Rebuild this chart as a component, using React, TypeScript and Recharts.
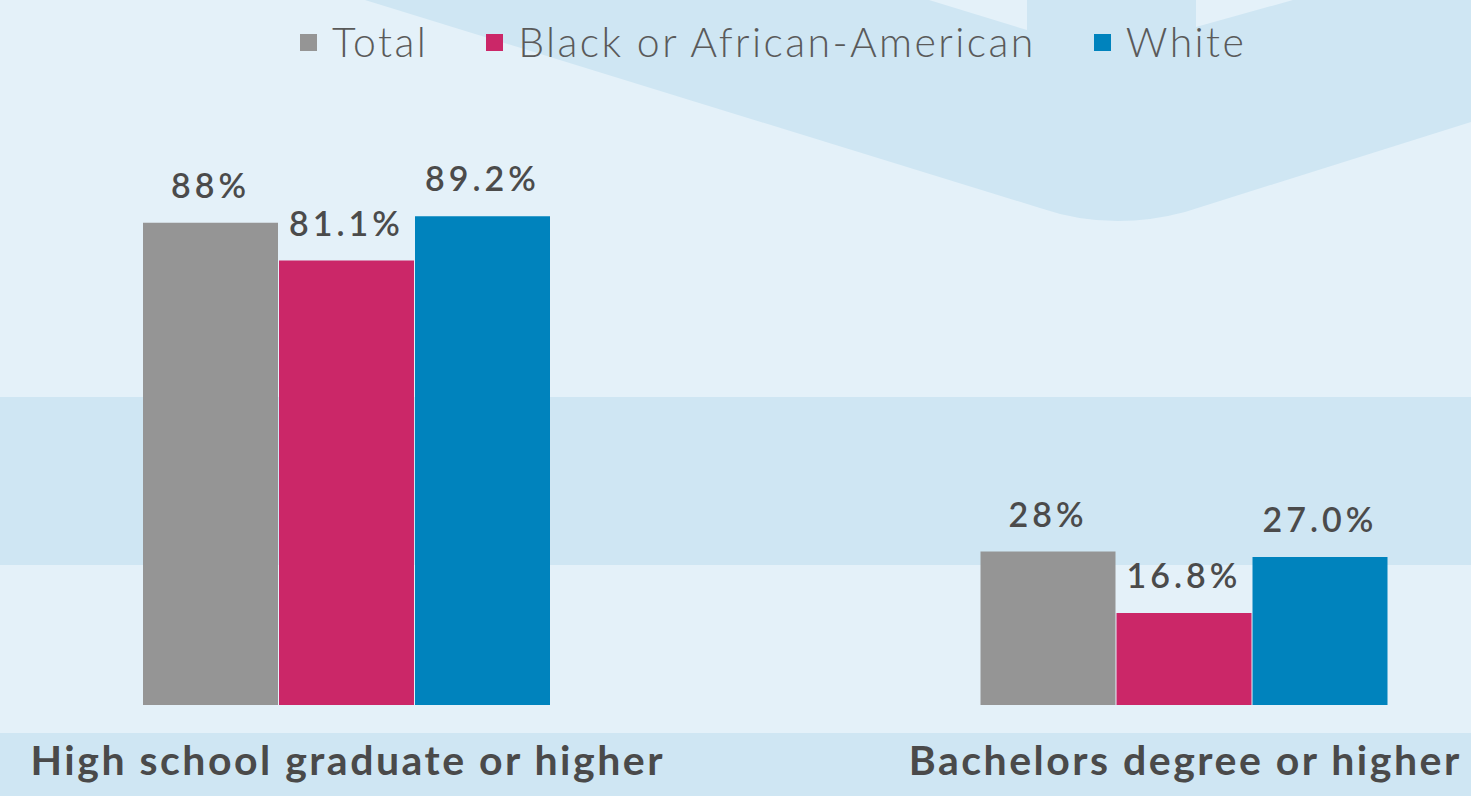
import React from "react";
import { BarChart, Bar, XAxis, YAxis, LabelList, Legend } from "recharts";

const categories = ["High school graduate or higher", "Bachelors degree or higher"];
const totalValues = [88, 28];
const blackValues = [81.1, 16.8];
const whiteValues = [89.2, 27.0];
const totalLabels = ["88%", "28%"];
const blackLabels = ["81.1%", "16.8%"];
const whiteLabels = ["89.2%", "27.0%"];

const seriesNames = ["Total", "Black or African-American", "White"];
const seriesColors = ["#959595", "#cb2768", "#0083bd"];

const data = categories.map((c, i) => ({
  category: c,
  total: totalValues[i],
  black: blackValues[i],
  white: whiteValues[i],
  totalLabel: totalLabels[i],
  blackLabel: blackLabels[i],
  whiteLabel: whiteLabels[i],
}));

const FONT = "Lato, 'Open Sans', sans-serif";
const BG = "#e4f1f9";
const BAND = "#cfe6f3";

const CategoryTick = (props: any) => {
  const { x, y, payload } = props;
  return (
    <text
      x={x + 1}
      y={y}
      dy={68}
      textAnchor="middle"
      fontFamily={FONT}
      fontSize={41}
      fontWeight={700}
      letterSpacing={2.5}
      fill="#4a4a4a"
    >
      {payload.value}
    </text>
  );
};

const renderLegend = () => (
  <div style={{ display: "flex", alignItems: "center", fontFamily: FONT }}>
    {seriesNames.map((n, i) => (
      <div key={n} style={{ display: "flex", alignItems: "center", marginRight: 58 }}>
        <span
          style={{
            display: "inline-block",
            width: 17,
            height: 17,
            background: seriesColors[i],
            marginRight: 15,
          }}
        />
        <span
          style={{
            fontSize: 41,
            fontWeight: 300,
            letterSpacing: 2.4,
            color: "#5a5a5a",
            lineHeight: "44px",
          }}
        >
          {n}
        </span>
      </div>
    ))}
  </div>
);

const labelStyle = {
  fontFamily: FONT,
  fontSize: 34,
  fontWeight: 600,
  letterSpacing: 4,
  fill: "#4b4b4b",
};

export default function App() {
  return (
    <div style={{ position: "relative", width: 1471, height: 796, overflow: "hidden", background: BG }}>
      <style>{"body{margin:0}"}</style>
      <svg width={1471} height={796} style={{ position: "absolute", left: 0, top: 0 }}>
        <rect x={0} y={397} width={1471} height={168} fill={BAND} />
        <rect x={0} y={733} width={1471} height={63} fill={BAND} />
        <path
          d="M365,0 L929,0 L1027,30 L1027,0 L1196,0 L1196,27 L1293,0 L1471,0 L1471,122 L1185,212 Q1110,232 1040,208 Z"
          fill={BAND}
        />
      </svg>
      <div style={{ position: "absolute", left: -72, top: 0 }}>
        <BarChart
          width={1675}
          height={796}
          data={data}
          margin={{ top: 157, right: 0, bottom: 0, left: 0 }}
          barGap={1}
          barSize={135}
        >
          <XAxis
            dataKey="category"
            axisLine={false}
            tickLine={false}
            tickSize={0}
            height={91}
            interval={0}
            tick={<CategoryTick />}
          />
          <YAxis hide domain={[0, 100]} />
          <Legend
            verticalAlign="middle"
            align="center"
            content={renderLegend}
            wrapperStyle={{ position: "absolute", top: 20, left: 372, width: 1100, bottom: "auto", right: "auto" }}
          />
          <Bar dataKey="total" name={seriesNames[0]} fill={seriesColors[0]} isAnimationActive={false}>
            <LabelList dataKey="totalLabel" position="top" offset={25} style={labelStyle} />
          </Bar>
          <Bar dataKey="black" name={seriesNames[1]} fill={seriesColors[1]} isAnimationActive={false}>
            <LabelList dataKey="blackLabel" position="top" offset={25} style={labelStyle} />
          </Bar>
          <Bar dataKey="white" name={seriesNames[2]} fill={seriesColors[2]} isAnimationActive={false}>
            <LabelList dataKey="whiteLabel" position="top" offset={25} style={labelStyle} />
          </Bar>
        </BarChart>
      </div>
    </div>
  );
}
